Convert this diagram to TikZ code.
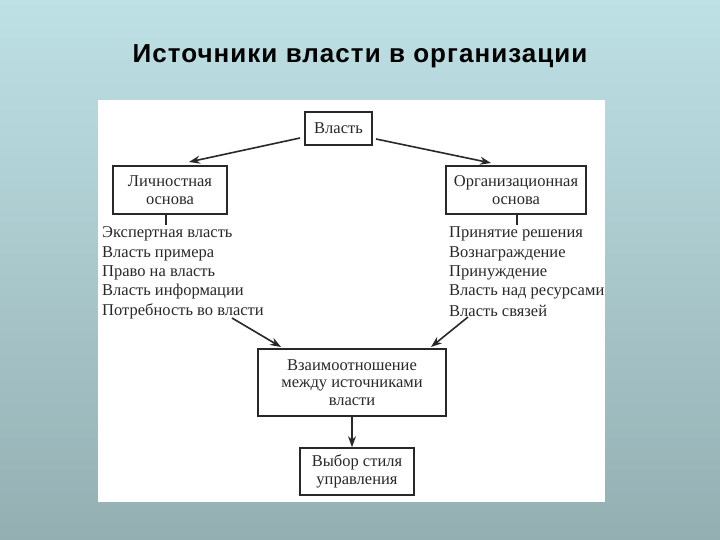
\documentclass[tikz,border=0pt]{standalone}
\usepackage{fontspec}
\setmainfont{Liberation Serif}
\newfontfamily\titlefont[LetterSpace=4]{Liberation Sans}
\usetikzlibrary{arrows.meta}
\definecolor{bgtop}{RGB}{190,225,230}
\definecolor{bgbot}{RGB}{148,175,178}
\definecolor{ink}{RGB}{40,40,40}
\begin{document}
\begin{tikzpicture}[x=1pt,y=-1pt,
  box/.style={draw=ink,line width=1.6pt,align=center,inner sep=0pt,font=\fontsize{16.5}{17.5}\selectfont,text=ink},
  item/.style={anchor=west,inner sep=0pt,font=\fontsize{16.5}{18}\selectfont,text=ink},
  conn/.style={draw=ink,line width=1.6pt},
  arr/.style={conn,-{Stealth[length=11pt,width=8pt]}}]
\useasboundingbox (0,0) rectangle (720,540);
\shade[top color=bgtop,bottom color=bgbot] (0,0) rectangle (720,540);
\node[font=\titlefont\bfseries\fontsize{26}{30}\selectfont] (title) at (360,56) {Источники власти в организации};
\fill[white] (98,100) rectangle (605,502);
\node[box,minimum width=67pt,minimum height=33pt] (vl) at (338.5,128.5) {Власть};
\node[box,minimum width=114pt,minimum height=48pt] (lo) at (170,190) {Личностная\\основа};
\node[box,minimum width=140pt,minimum height=48pt] (oo) at (516,190) {Организационная\\основа};
\node[box,minimum width=188pt,minimum height=67pt] (vz) at (352,382.5) {Взаимоотношение\\между источниками\\власти};
\node[box,minimum width=114pt,minimum height=47pt] (vs) at (357,471.5) {Выбор стиля\\управления};
\node[item] (l1) at (102,234) {Экспертная власть};
\node[item] (l2) at (102,253.5) {Власть примера};
\node[item] (l3) at (102,273) {Право на власть};
\node[item] (l4) at (102,292) {Власть информации};
\node[item] (l5) at (102,311) {Потребность во власти};
\node[item] (r1) at (449,234) {Принятие решения};
\node[item] (r2) at (449,253.5) {Вознаграждение};
\node[item] (r3) at (449,273) {Принуждение};
\node[item] (r4) at (449,292) {Власть над ресурсами};
\node[item] (r5) at (449,311) {Власть связей};
\draw[conn] (lo.south -| 166,0) -- (166,225);
\draw[conn] (oo.south -| 517,0) -- (517,225);
\coordinate (a1) at (300,138);
\coordinate (a2) at (376,139);
\draw[arr] (a1) -- (189,162);
\draw[arr] (a2) -- (491,163);
\coordinate (b1) at (232,318);
\coordinate (b2) at (468,317);
\draw[arr] (b1) -- (281,347);
\draw[arr] (b2) -- (431,347);
\draw[arr] (vz.south -| 352,0) -- (vs.north -| 352,0);
\end{tikzpicture}
\end{document}
